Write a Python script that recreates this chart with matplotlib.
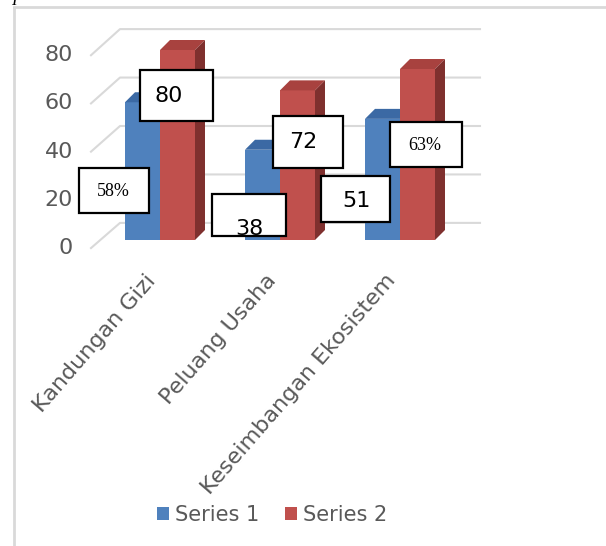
import matplotlib

matplotlib.use("Agg")
import matplotlib.pyplot as plt
from matplotlib.lines import Line2D
from matplotlib.patches import Polygon, Rectangle

categories = ["Kandungan Gizi", "Peluang Usaha", "Keseimbangan Ekosistem"]
series_names = ["Series 1", "Series 2"]
series_1 = [58, 38, 51]
series_2 = [80, 63, 72]
grid_values = [0, 20, 40, 60, 80]
box_labels = ["58%", "80", "38", "72", "51", "63%"]

W, H = 606, 546
BLUE = ("#4F81BD", "#3B69A4", "#34598A")   # front, top, side
RED = ("#C0504D", "#A8423F", "#7F302E")
GRID = "#D9D9D9"
TEXT = "#595959"

# pixel <-> data mapping: category i centred at px 160 + 120 i, value 0 at py 240
PX_X, PX_Y = 120.0, 2.375
BAR_W = 35 / PX_X
DX, DY = 10 / PX_X, 10 / PX_Y


def px(x, y):
    return (x - 160) / PX_X, (240 - y) / PX_Y


fig = plt.figure(figsize=(W / 100, H / 100), dpi=100)
ax = fig.add_axes([0, 0, 1, 1])
x0, y1 = px(0, 0)
x1, y0 = px(W, H)
ax.set_xlim(x0, x1)
ax.set_ylim(y0, y1)
ax.axis("off")

# chart frame
fig.add_artist(Line2D([14 / W, 14 / W], [0, 1 - 8 / H], color=GRID, lw=2))
fig.add_artist(Line2D([14 / W, 1], [1 - 7 / H, 1 - 7 / H], color=GRID, lw=2))
fig.text(14 / W, 1 - 5 / H, "I", fontsize=12, style="italic", family="Liberation Serif",
         va="baseline", ha="center")

# back wall gridlines with the perspective diagonal on the left
fx, bx, rx = px(91, 0)[0], px(120, 0)[0], px(480, 0)[0]
for v in grid_values:
    yb = 7.2 + 1.02 * v
    yf = -3.4 + 1.015 * v
    ax.plot([fx, bx, rx], [yf, yb, yb], color=GRID, lw=1.5, zorder=1)
    ax.text(px(73, 0)[0], yf, str(v), ha="right", va="center", fontsize=16,
            color=TEXT, family="DejaVu Sans")


def draw_bar(x_left, val, colors):
    ax.bar(x_left, val, width=BAR_W, align="edge", color=colors[0], lw=0, zorder=3)
    xr = x_left + BAR_W
    top = [(x_left, val), (xr, val), (xr + DX, val + DY), (x_left + DX, val + DY)]
    side = [(xr, 0), (xr + DX, DY), (xr + DX, val + DY), (xr, val)]
    ax.add_patch(Polygon(top, closed=True, fc=colors[1], lw=0, zorder=3))
    ax.add_patch(Polygon(side, closed=True, fc=colors[2], lw=0, zorder=3))


for i in range(len(categories)):
    draw_bar(i - BAR_W, series_1[i], BLUE)
    draw_bar(i, series_2[i], RED)

# category labels
for i, name in enumerate(categories):
    ax.text(i - 0.065, px(0, 277)[1], name, rotation=49, rotation_mode="anchor",
            ha="right", va="center", fontsize=16, color=TEXT, family="DejaVu Sans")

# hand-placed label boxes (box in px: left, top, right, bottom; text centre px)
boxes = [
    ((79, 168, 149, 213), (113, 191), "serif", 13),
    ((140, 70, 213, 121), (169, 96), "sans", 16),
    ((212, 194, 286, 236), (249, 229), "sans", 16),
    ((273, 116, 343, 168), (303, 142), "sans", 16),
    ((321, 176, 390, 222), (356, 201), "sans", 16),
    ((390, 122, 462, 167), (425, 146), "serif", 13),
]
for label, (box, tc, fam, size) in zip(box_labels, boxes):
    l, t, r, b = box
    xl, yt = px(l, t)
    xr, yb = px(r, b)
    rect = Rectangle((xl, yb), xr - xl, yt - yb, fc="white", ec="black", lw=1.6, zorder=5)
    ax.add_patch(rect)
    family = "Liberation Serif" if fam == "serif" else "DejaVu Sans"
    t_obj = ax.text(*px(*tc), label, ha="center", va="center", fontsize=size,
                    family=family, color="black", zorder=6)
    t_obj.set_clip_path(rect)

# legend
handles = [Rectangle((0, 0), 1, 1, fc=BLUE[0]), Rectangle((0, 0), 1, 1, fc=RED[0])]
leg = fig.legend(handles, series_names, loc="center", bbox_to_anchor=(272 / W, 1 - 515 / H),
                 ncol=2, frameon=False, fontsize=15, handlelength=0.6, handleheight=0.6,
                 handletextpad=0.3, columnspacing=1.2, labelcolor=TEXT)

fig.savefig("out.png", dpi=100)
